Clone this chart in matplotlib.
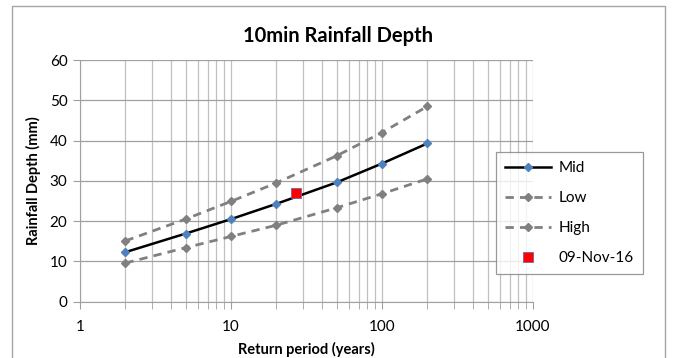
import matplotlib.pyplot as plt
from matplotlib.patches import Rectangle
from matplotlib.ticker import LogLocator, NullFormatter, FixedLocator

# Return periods (years) and rainfall depths (mm).
periods = [2, 5, 10, 20, 50, 100, 200]
mid = [12.3, 16.9, 20.5, 24.3, 29.6, 34.3, 39.3]
low = [15.1, 20.5, 24.9, 29.5, 36.2, 42.0, 48.5]
high = [9.6, 13.4, 16.2, 19.0, 23.3, 26.8, 30.5]
event_period = [27.1]
event_depth = [26.9]
event_label = "09-Nov-16"

plt.rcParams["font.family"] = ["Lato", "DejaVu Sans"]

fig = plt.figure(figsize=(6.73, 3.58), dpi=100)
ax = fig.add_axes([80 / 673, 1 - 301.7 / 358, 453 / 673, 241.7 / 358])

# Outer chart border.
fig.patches.append(Rectangle((12 / 673, -0.05), 653 / 673, 1.05 - 6 / 358,
                             transform=fig.transFigure, fill=False,
                             edgecolor="#a6a6a6", linewidth=1))

grey = "#808080"
ax.plot(periods, mid, color="black", linewidth=1.8, marker="D",
        markersize=4, markerfacecolor="#4f81bd", markeredgecolor="#4f81bd",
        label="Mid", zorder=4)
ax.plot(periods, low, color=grey, linewidth=2, linestyle=(0, (3, 2.2)),
        marker="D", markersize=3.6, markerfacecolor=grey, markeredgecolor=grey,
        label="Low", zorder=3)
ax.plot(periods, high, color=grey, linewidth=2, linestyle=(0, (3, 2.2)),
        marker="D", markersize=3.6, markerfacecolor=grey, markeredgecolor=grey,
        label="High", zorder=3)
ax.plot(event_period, event_depth, linestyle="none", marker="s",
        markersize=7, markerfacecolor="#ff0000", markeredgecolor="#7f5f9f",
        markeredgewidth=0.6, label=event_label, zorder=5)

ax.set_xscale("log")
ax.set_xlim(1, 1000)
ax.set_ylim(0, 60)
ax.set_xticks([1, 10, 100, 1000])
ax.set_xticklabels(["1", "10", "100", "1000"])
ax.xaxis.set_minor_locator(LogLocator(base=10, subs=range(2, 10)))
ax.xaxis.set_minor_formatter(NullFormatter())
ax.yaxis.set_major_locator(FixedLocator(range(0, 61, 10)))

ax.grid(True, which="both", axis="x", color="#c0c0c0", linewidth=0.9)
ax.grid(True, which="major", axis="y", color="#a0a0a0", linewidth=0.9)
ax.set_axisbelow(True)

for side in ["top", "right"]:
    ax.spines[side].set_visible(False)
for side in ["left", "bottom"]:
    ax.spines[side].set_color("#a0a0a0")

ax.tick_params(axis="both", which="both", colors="#a0a0a0",
               labelcolor="black", labelsize=11, direction="out")
ax.tick_params(axis="x", which="major", length=5, pad=8)
ax.tick_params(axis="x", which="minor", length=5)
ax.tick_params(axis="y", length=5, pad=4)

fig.text(338 / 673, 1 - 36 / 358, "10min Rainfall Depth", ha="center",
         va="center", fontsize=14.5, fontweight="bold")
ax.set_xlabel("Return period (years)", fontsize=10.5, fontweight="bold",
              labelpad=6)
ax.set_ylabel("Rainfall Depth (mm)", fontsize=10.5, fontweight="bold",
              labelpad=6)

leg = ax.legend(loc="upper left", bbox_to_anchor=(496 / 673, 1 - 152 / 358),
                bbox_transform=fig.transFigure, borderaxespad=0, numpoints=1,
                fontsize=11, frameon=True, fancybox=False, edgecolor="#808080",
                handlelength=3.0, labelspacing=1.05, borderpad=0.6,
                handletextpad=0.5)
leg.get_frame().set_linewidth(0.9)

fig.savefig("out.png", dpi=100)
